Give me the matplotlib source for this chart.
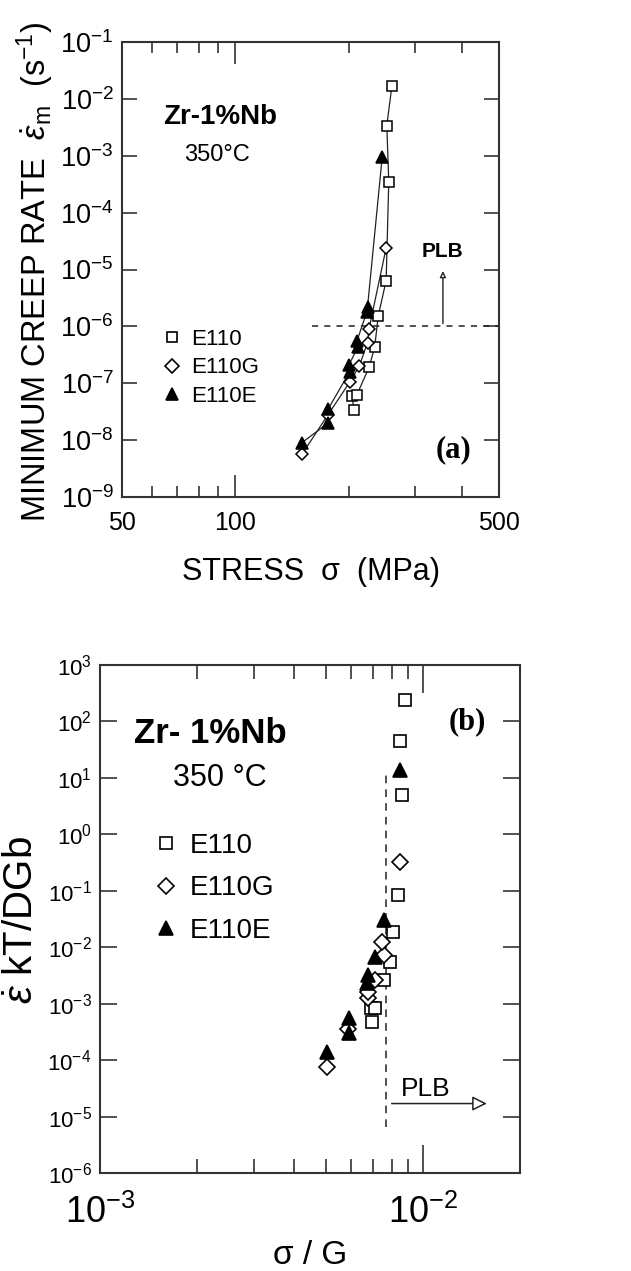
"""
Minimum creep rate of Zr-1%Nb alloys at 350 C: (a) vs stress, (b) normalised
"""
# ---   IMPORTS   --- #
# ------------------- #
import numpy as np
import matplotlib
matplotlib.use('Agg')
import matplotlib.pyplot as plt
from matplotlib.ticker import FixedLocator, NullFormatter, NullLocator
from matplotlib.lines import Line2D


# ---   DATA   --- #
# ---------------- #
SERIES = ['E110', 'E110G', 'E110E']

# Panel (a): stress (MPa) vs minimum creep rate (1/s)
A_E110_STRESS = [206, 204, 210, 226, 234, 239, 251, 255, 252, 260]
A_E110_RATE = [3.4e-8, 6.0e-8, 6.3e-8, 1.9e-7, 4.3e-7, 1.5e-6, 6.4e-6,
               3.5e-4, 3.4e-3, 1.7e-2]
A_E110G_STRESS = [150, 176, 201, 213, 224, 226, 251]
A_E110G_RATE = [5.6e-9, 2.8e-8, 1.05e-7, 2.0e-7, 5.2e-7, 9.0e-7, 2.4e-5]
A_E110E_STRESS = [150, 176, 176, 201, 200, 211, 210, 223, 224, 245]
A_E110E_RATE = [9.0e-9, 2.0e-8, 3.5e-8, 1.6e-7, 2.1e-7, 4.3e-7, 5.5e-7,
                1.8e-6, 2.2e-6, 9.5e-4]

# Panel (b): sigma/G vs normalised creep rate
B_E110_X = [6.95e-3, 6.9e-3, 7.1e-3, 7.57e-3, 7.9e-3, 8.07e-3, 8.4e-3,
            8.6e-3, 8.5e-3, 8.8e-3]
B_E110_Y = [4.7e-4, 8.3e-4, 8.3e-4, 2.6e-3, 5.4e-3, 1.85e-2, 8.3e-2,
            5.0, 45, 240]
B_E110G_X = [5.04e-3, 5.86e-3, 6.76e-3, 6.76e-3, 7.1e-3, 7.6e-3, 7.5e-3,
             8.5e-3]
B_E110G_Y = [7.5e-5, 3.5e-4, 1.25e-3, 1.6e-3, 2.6e-3, 7.2e-3, 1.23e-2, 0.32]
B_E110E_X = [5.04e-3, 5.9e-3, 5.9e-3, 6.7e-3, 6.76e-3, 7.1e-3, 7.6e-3,
             8.5e-3]
B_E110E_Y = [1.4e-4, 3.0e-4, 5.5e-4, 2.3e-3, 3.2e-3, 6.6e-3, 3.0e-2, 13.8]

# Power-law breakdown marks
A_PLB_STRESS = [160, 500]
A_PLB_RATE = 1e-6
A_PLB_ARROW_STRESS = 355
A_PLB_ARROW_RATE = [1e-6, 1.05e-5]
B_PLB_X = 7.68e-3
B_PLB_Y = [6.5e-6, 12.0]
B_PLB_ARROW_X = [7.85e-3, 1.61e-2]
B_PLB_ARROW_Y = 1.7e-5

# Axis ticks
A_YTICKS = [10.0 ** k for k in range(-9, 0)]
A_XTICKS = [50, 100, 500]
A_XMINOR = [60, 70, 80, 90, 200, 300, 400]
B_YTICKS = [10.0 ** k for k in range(-6, 4)]
B_XTICKS = [1e-3, 1e-2]
B_XMINOR = [k * 1e-3 for k in range(2, 10)]


# ---   STYLE   --- #
# ----------------- #
plt.rcParams['font.family'] = ['Liberation Sans', 'DejaVu Sans']
plt.rcParams['mathtext.fontset'] = 'custom'
plt.rcParams['mathtext.rm'] = 'Liberation Sans'
plt.rcParams['mathtext.it'] = 'Liberation Sans:italic'
plt.rcParams['mathtext.bf'] = 'Liberation Sans:bold'
SPINE = '#333333'
MARKERS = {'E110': 's', 'E110G': 'D', 'E110E': '^'}
FACES = {'E110': 'white', 'E110G': 'white', 'E110E': 'black'}
SIZES = {'E110': 7.5, 'E110G': 6.5, 'E110E': 8.5}


# ---   METHODS   --- #
# ------------------- #
def pow10_label(v):
    return r'$10^{%d}$' % int(round(np.log10(v)))


def format_axes(ax, yticks, xticks, xminor, ymaj_len, xmaj_len, xmin_len):
    ax.set_xscale('log')
    ax.set_yscale('log')
    ax.yaxis.set_major_locator(FixedLocator(yticks))
    ax.yaxis.set_minor_locator(NullLocator())
    ax.xaxis.set_major_locator(FixedLocator(xticks))
    ax.xaxis.set_minor_locator(FixedLocator(xminor))
    ax.xaxis.set_minor_formatter(NullFormatter())
    ax.tick_params(axis='both', which='both', direction='in',
                   top=True, right=True, color=SPINE, width=1.2)
    ax.tick_params(axis='y', which='major', length=ymaj_len)
    ax.tick_params(axis='x', which='major', length=xmaj_len)
    ax.tick_params(axis='x', which='minor', length=xmin_len)
    for axis in ['top', 'bottom', 'left', 'right']:
        ax.spines[axis].set_linewidth(1.5)
        ax.spines[axis].set_color(SPINE)


def legend(ax, anchor, fontsize, msize, spacing):
    handles = [
        Line2D([], [], ls='none', marker=MARKERS[s], mfc=FACES[s],
               mec='black', mew=1.2, ms=msize * (1.15 if s == 'E110E' else 1))
        for s in SERIES
    ]
    ax.legend(handles, SERIES, loc='upper left', bbox_to_anchor=anchor,
              frameon=False, fontsize=fontsize, handlelength=0.8,
              handletextpad=0.45, labelspacing=spacing, borderpad=0,
              borderaxespad=0)


def panel_a(ax):
    data = {
        'E110': (A_E110_STRESS, A_E110_RATE),
        'E110G': (A_E110G_STRESS, A_E110G_RATE),
        'E110E': (A_E110E_STRESS, A_E110E_RATE),
    }
    for name in SERIES:
        x, y = np.array(data[name][0]), np.array(data[name][1])
        order = np.argsort(y)
        ax.plot(x[order], y[order], '-', color='#222222', lw=0.9, zorder=2)
        ax.plot(x, y, ls='none', marker=MARKERS[name], mfc=FACES[name],
                mec='black', mew=1.1, ms=SIZES[name], zorder=3)
    ax.plot(A_PLB_STRESS, [A_PLB_RATE] * 2, ls=(0, (4, 4)), color='#222222',
            lw=1.1)
    ax.annotate('', xy=(A_PLB_ARROW_STRESS, A_PLB_ARROW_RATE[1]),
                xytext=(A_PLB_ARROW_STRESS, A_PLB_ARROW_RATE[0]),
                arrowprops=dict(arrowstyle='-|>', fc='white', ec='#222222',
                                lw=1.0, mutation_scale=9))
    ax.text(A_PLB_ARROW_STRESS, 2.1e-5, 'PLB', ha='center', va='center',
            fontsize=15, fontweight='bold')
    ax.set_xlim(50, 500)
    ax.set_ylim(1e-9, 1e-1)
    format_axes(ax, A_YTICKS, A_XTICKS, A_XMINOR, 11, 16, 8)
    ax.set_yticklabels([pow10_label(v) for v in A_YTICKS], fontsize=19.5)
    ax.set_xticklabels([str(v) for v in A_XTICKS], fontsize=18)
    ax.tick_params(axis='x', which='major', pad=10)
    ax.tick_params(axis='y', which='major', pad=6)
    ax.set_xlabel('STRESS  σ  (MPa)', fontsize=22, labelpad=16)
    ax.text(0.26, 0.835, 'Zr-1%Nb', transform=ax.transAxes, ha='center',
            va='center', fontsize=20, fontweight='bold')
    ax.text(0.252, 0.752, '350°C', transform=ax.transAxes, ha='center',
            va='center', fontsize=17)
    ax.text(0.878, 0.103, '(a)', transform=ax.transAxes, ha='center',
            va='center', fontsize=22, fontweight='bold',
            family='Liberation Serif')
    legend(ax, (0.11, 0.37), 16, 7, 0.35)


def panel_b(ax):
    data = {
        'E110': (B_E110_X, B_E110_Y),
        'E110G': (B_E110G_X, B_E110G_Y),
        'E110E': (B_E110E_X, B_E110E_Y),
    }
    for name in SERIES:
        ax.plot(data[name][0], data[name][1], ls='none',
                marker=MARKERS[name], mfc=FACES[name], mec='black', mew=1.2,
                ms=SIZES[name] * 1.2, zorder=3)
    ax.plot([B_PLB_X] * 2, B_PLB_Y, ls=(0, (5, 4)), color='#222222', lw=1.1)
    ax.annotate('', xy=(B_PLB_ARROW_X[1], B_PLB_ARROW_Y),
                xytext=(B_PLB_ARROW_X[0], B_PLB_ARROW_Y),
                arrowprops=dict(arrowstyle='-|>', fc='white', ec='#222222',
                                lw=1.1, mutation_scale=22))
    ax.text(1.02e-2, 3.1e-5, 'PLB', ha='center', va='center', fontsize=19)
    ax.set_xlim(1e-3, 2e-2)
    ax.set_ylim(1e-6, 1e3)
    format_axes(ax, B_YTICKS, B_XTICKS, B_XMINOR, 12, 20, 10)
    ax.set_yticklabels([pow10_label(v) for v in B_YTICKS], fontsize=16)
    ax.set_xticklabels([pow10_label(v) for v in B_XTICKS], fontsize=26)
    ax.tick_params(axis='x', which='major', pad=16)
    ax.tick_params(axis='y', which='major', pad=6)
    ax.set_xlabel('σ / G', fontsize=24, labelpad=6)
    ax.text(0.262, 0.866, 'Zr- 1%Nb', transform=ax.transAxes, ha='center',
            va='center', fontsize=25, fontweight='bold')
    ax.text(0.286, 0.778, '350 °C', transform=ax.transAxes, ha='center',
            va='center', fontsize=22)
    ax.text(0.874, 0.888, '(b)', transform=ax.transAxes, ha='center',
            va='center', fontsize=22, fontweight='bold',
            family='Liberation Serif')
    legend(ax, (0.13, 0.67), 20, 8.5, 0.6)


# ---     MAIN     --- #
# -------------------- #
if __name__ == '__main__':
    fig = plt.figure(figsize=(6.31, 12.71), dpi=100)
    ax_a = fig.add_axes([122 / 631, 1 - 497 / 1271, 377 / 631, 455 / 1271])
    ax_b = fig.add_axes([100 / 631, 1 - 1173 / 1271, 420 / 631, 508 / 1271])
    panel_a(ax_a)
    panel_b(ax_b)
    fig.text(35 / 631, 1 - 272 / 1271,
             r'MINIMUM CREEP RATE  $\dot{\varepsilon}_{\rm m}$  (s$^{-1}$)',
             rotation=90, ha='center', va='center', fontsize=23.5)
    fig.text(22 / 631, 1 - 920 / 1271, r'$\dot{\varepsilon}$ kT/DGb',
             rotation=90, ha='center', va='center', fontsize=29)
    fig.savefig('out.png', dpi=100)
